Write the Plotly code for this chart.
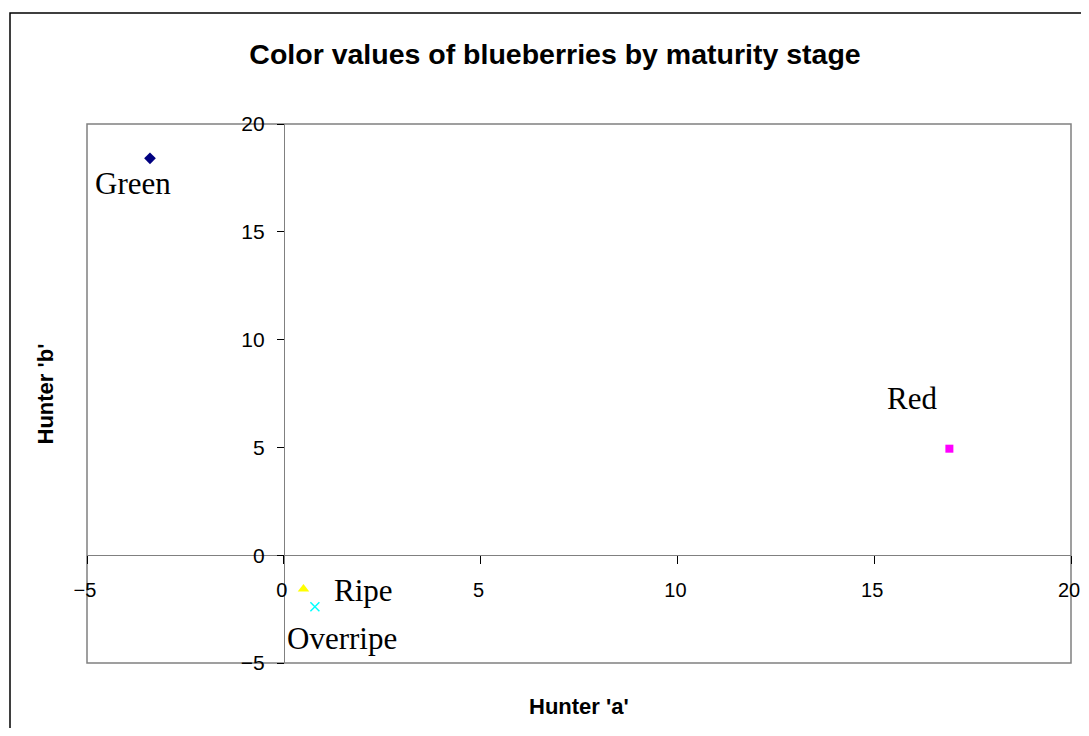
import plotly.graph_objects as go

# Data
stages = ["Green", "Red", "Ripe", "Overripe"]
hunter_a = [-3.40, 16.91, 0.50, 0.79]
hunter_b = [18.41, 4.94, -1.57, -2.39]
marker_symbols = ["diamond", "square", "triangle-up", "x-thin"]
marker_colors = ["#000080", "#FF00FF", "#FFFF00", "#00FFFF"]
marker_sizes = [9, 8, 10, 9]
# label offsets in pixels (xshift, yshift)
label_dx = [-17, -37, 60, 27]
label_dy = [-25, 50, -1, -32]

x_range = [-5, 20]
y_range = [-5, 20]
tick_vals = [-5, 0, 5, 10, 15, 20]

title_text = "Color values of blueberries by maturity stage"
x_title = "Hunter 'a'"
y_title = "Hunter 'b'"

# page body has an 8px margin; keep the page height inside the viewport
OFF = 8
W, H = 1089 - OFF, 736 - 2 * OFF
PL, PT, PR, PB = 87, 124, 1071, 663  # plot area in page pixels

fig = go.Figure()
for i, s in enumerate(stages):
    sym = marker_symbols[i]
    line = dict(width=1.5, color=marker_colors[i]) if sym == "x-thin" else dict(width=0)
    fig.add_trace(go.Scatter(
        x=[hunter_a[i]], y=[hunter_b[i]], mode="markers", name=s,
        marker=dict(symbol=sym, color=marker_colors[i], size=marker_sizes[i], line=line),
        showlegend=False, cliponaxis=False,
    ))

annotations = []
for i, s in enumerate(stages):
    annotations.append(dict(
        x=hunter_a[i], y=hunter_b[i], xref="x", yref="y", text=s, showarrow=False,
        xshift=label_dx[i], yshift=label_dy[i],
        font=dict(family="Liberation Serif, Times New Roman, serif", size=31, color="black"),
    ))

annotations.append(dict(
    x=0.5, y=-0.0798, xref="paper", yref="paper", text="<b>" + x_title + "</b>",
    showarrow=False, yanchor="middle",
    font=dict(family="Liberation Sans, Arial, sans-serif", size=22, color="black"),
))
annotations.append(dict(
    x=-0.0417, y=0.5, xref="paper", yref="paper", text="<b>" + y_title + "</b>",
    showarrow=False, textangle=-90, xanchor="center",
    font=dict(family="Liberation Sans, Arial, sans-serif", size=22, color="black"),
))

x_pos = (0 - y_range[0]) / (y_range[1] - y_range[0])
y_pos = (0 - x_range[0]) / (x_range[1] - x_range[0])

tick_font_y = dict(family="Liberation Sans, Arial, sans-serif", size=21, color="black")
tick_font_x = dict(family="Liberation Sans, Arial, sans-serif", size=20, color="black")

pw, ph = PR - PL, PB - PT

fig.update_layout(
    width=W, height=H, autosize=False,
    margin=dict(l=PL - OFF, r=W + OFF - PR, t=PT - OFF, b=H + OFF - PB, autoexpand=False),
    paper_bgcolor="white", plot_bgcolor="white",
    title=dict(text="<b>" + title_text + "</b>", x=(555 - OFF) / W, xref="container", xanchor="center",
               y=1 - (54 - OFF) / H, yref="container", yanchor="middle",
               font=dict(family="Liberation Sans, Arial, sans-serif", size=28.5, color="black")),
    xaxis=dict(range=x_range, tickvals=tick_vals, showgrid=False, zeroline=False,
               anchor="free", position=x_pos, showline=True, linecolor="#808080", linewidth=1,
               ticks="outside", ticklen=8, tickcolor="black", tickwidth=1, automargin=False,
               tickfont=tick_font_x, ticklabelstandoff=9, ticklabeloverflow="allow",
               ticklabelshift=-2),
    yaxis=dict(range=y_range, tickvals=tick_vals, showgrid=False, zeroline=False,
               anchor="free", position=y_pos, showline=True, linecolor="#808080", linewidth=1,
               ticks="outside", ticklen=7, tickcolor="black", tickwidth=1, automargin=False,
               tickfont=tick_font_y, ticklabelstandoff=8, ticklabeloverflow="allow"),
    annotations=annotations,
    shapes=[
        dict(type="rect", xref="paper", yref="paper", x0=0, x1=1, y0=0, y1=1,
             line=dict(color="#808080", width=1.5), layer="below"),
        dict(type="rect", xref="paper", yref="paper", x0=(10 - PL) / pw, x1=1.1,
             y0=-0.3, y1=(PB - 13) / ph, line=dict(color="black", width=1.5), layer="below"),
    ],
)

fig.write_html("out.html")
